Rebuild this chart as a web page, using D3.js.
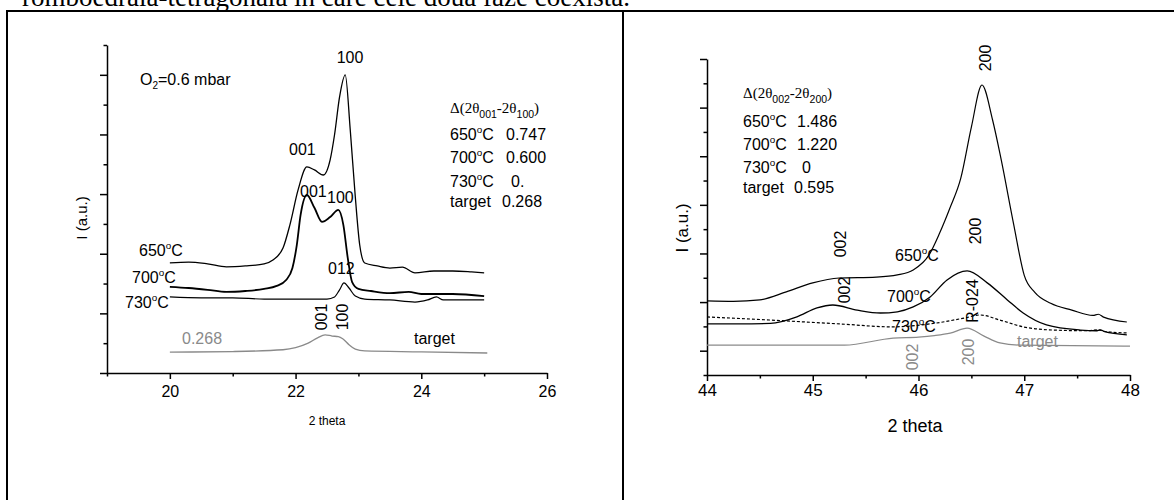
<!DOCTYPE html>
<html>
<head>
<meta charset="utf-8">
<script src="https://cdn.jsdelivr.net/npm/d3@7"></script>
<style>
body { margin: 0; background: #fff; }
svg { display: block; font-family: "Liberation Sans", Arial, sans-serif; }
</style>
</head>
<body>
<div class="dataviz"></div>
<script>
// XRD patterns, 2 theta vs intensity (a.u.)

// left panel: 001 / 100 region
var left650 = [[20,3.69],[20.3,3.72],[20.6,3.66],[20.9,3.56],[21.2,3.59],[21.5,3.66],[21.64,3.79],[21.8,4.19],
  [21.91,4.97],[22.04,6.14],[22.18,6.91],[22.3,6.81],[22.44,6.64],[22.55,7.15],[22.62,7.99],[22.7,9.26],
  [22.79,10.0],[22.87,8.15],[22.95,5.91],[23.02,4.3],[23.1,3.69],[23.3,3.59],[23.5,3.52],[23.7,3.55],
  [23.9,3.36],[24.2,3.42],[24.5,3.42],[24.8,3.39],[25,3.36]];
var left700 = [[20,2.89],[20.3,2.85],[20.6,2.79],[20.9,2.72],[21.2,2.75],[21.5,2.82],[21.7,2.92],[21.85,3.12],
  [21.95,3.52],[22.02,4.3],[22.08,5.3],[22.18,5.97],[22.3,5.54],[22.42,5.07],[22.55,5.23],[22.68,5.47],
  [22.76,4.97],[22.83,3.86],[22.9,3.05],[23,2.82],[23.2,2.75],[23.5,2.68],[23.8,2.72],[24,2.65],[24.5,2.65],[25,2.58]];
var left730 = [[20,2.55],[20.5,2.52],[21,2.52],[21.5,2.48],[22,2.48],[22.5,2.48],[22.62,2.55],[22.7,2.79],
  [22.77,3.02],[22.85,2.85],[22.95,2.58],[23.1,2.48],[23.5,2.45],[23.9,2.38],[24.1,2.45],[24.24,2.55],
  [24.35,2.45],[24.6,2.45],[25,2.45]];
var leftTarget = [[20,0.7],[21,0.72],[21.8,0.78],[22,0.85],[22.2,1.0],[22.35,1.18],[22.47,1.28],[22.58,1.24],
  [22.68,1.22],[22.75,1.15],[22.85,0.95],[22.95,0.8],[23.1,0.74],[24,0.71],[25.05,0.67]];

// right panel: 002 / 200 region
var right650 = [[44,3.05],[44.25,3.03],[44.5,3.09],[44.75,3.42],[45,3.79],[45.25,3.99],[45.6,4.03],[45.8,4.12],
  [45.95,4.32],[46.1,4.94],[46.2,5.84],[46.3,6.9],[46.4,8.1],[46.5,10.2],[46.6,11.93],[46.7,10.5],[46.78,8.9],
  [46.9,6.2],[47,4.1],[47.1,3.4],[47.25,2.95],[47.45,2.67],[47.65,2.45],[47.7,2.5],[47.75,2.38],[47.97,2.18]];
var right700 = [[44,2.1],[44.3,2.1],[44.6,2.12],[44.85,2.39],[45.04,2.76],[45.19,2.88],[45.42,2.67],[45.64,2.55],
  [45.8,2.6],[45.95,2.8],[46.11,3.21],[46.27,3.91],[46.46,4.28],[46.65,3.79],[46.84,3.09],[46.99,2.55],
  [47.21,2.06],[47.53,1.85],[47.68,1.82],[47.72,1.86],[47.76,1.78],[47.97,1.65]];
var right730 = [[44,2.39],[44.6,2.26],[45.26,2.1],[45.75,1.98],[46.17,2.14],[46.44,2.35],[46.58,2.47],
  [46.77,2.26],[46.99,1.98],[47.27,1.85],[47.6,1.82],[47.7,1.86],[47.75,1.8],[47.97,1.73]];
var rightTarget = [[44,1.23],[45.3,1.23],[45.76,1.52],[46,1.56],[46.15,1.62],[46.3,1.72],[46.46,1.93],
  [46.62,1.6],[46.77,1.32],[46.96,1.23],[48,1.19]];

// axis ticks
var leftXMajor = [20, 22, 24, 26], leftXMinor = [19, 21, 23, 25];
var leftYMajor = [0, 2, 4, 6, 8, 10], leftYMinor = [1, 3, 5, 7, 9, 11];
var rightXMajor = [44, 45, 46, 47, 48], rightXMinor = [44.5, 45.5, 46.5, 47.5];
var rightYMajor = [1, 3, 5, 7, 9, 11, 13], rightYMinor = [0, 2, 4, 6, 8, 10, 12];

// peak separation tables
var leftDeltaRows = ["650", "700", "730", "target"], leftDeltaVals = ["0.747", "0.600", "0.", "0.268"];
var rightDeltaRows = ["650", "700", "730", "target"], rightDeltaVals = ["1.486", "1.220", "0", "0.595"];

var gray = "#8a8a8a";

var canvas = d3.select(".dataviz").append("svg")
  .attr("width", 1174)
  .attr("height", 500);

// page text + table frame
canvas.append("text")
  .attr("x", 22).attr("y", 6)
  .attr("font-family", "Liberation Serif, Times New Roman, serif")
  .attr("font-size", 27)
  .text("romboedrală-tetragonală în care cele două faze coexistă.");
canvas.append("line").attr("x1", 6).attr("x2", 1174).attr("y1", 11).attr("y2", 11)
  .attr("stroke", "#000").attr("stroke-width", 2);
canvas.append("line").attr("x1", 7).attr("x2", 7).attr("y1", 10).attr("y2", 500)
  .attr("stroke", "#000").attr("stroke-width", 2);
canvas.append("line").attr("x1", 623).attr("x2", 623).attr("y1", 10).attr("y2", 500)
  .attr("stroke", "#000").attr("stroke-width", 2);

function tempLabel(g, x, y, t, size, color) {
  var txt = g.append("text").attr("x", x).attr("y", y).attr("font-size", size).attr("fill", color || "#000");
  txt.append("tspan").text(t);
  txt.append("tspan").attr("font-size", size * 0.62).attr("dy", -size * 0.42).text("o");
  txt.append("tspan").attr("dy", size * 0.42).text("C");
  return txt;
}

function deltaLabel(g, x, y, a, b, size) {
  var txt = g.append("text").attr("x", x).attr("y", y).attr("font-size", size)
    .attr("font-family", "Liberation Serif, Times New Roman, serif");
  txt.append("tspan").text("\u0394(2\u03b8");
  txt.append("tspan").attr("font-family", "Liberation Sans, Arial").attr("font-size", size * 0.7)
    .attr("dy", size * 0.3).text(a);
  txt.append("tspan").attr("dy", -size * 0.3).text("-2\u03b8");
  txt.append("tspan").attr("font-family", "Liberation Sans, Arial").attr("font-size", size * 0.7)
    .attr("dy", size * 0.3).text(b);
  txt.append("tspan").attr("dy", -size * 0.3).text(")");
}

function rotLabel(g, cx, cy, t, size, color) {
  g.append("text")
    .attr("transform", "translate(" + cx + "," + cy + ") rotate(-90)")
    .attr("text-anchor", "middle")
    .attr("dominant-baseline", "central")
    .attr("font-size", size)
    .attr("fill", color || "#000")
    .text(t);
}

function drawAxes(g, x, y, xMaj, xMin, yMaj, yMin, fs, pad) {
  var h = y.range()[0];
  g.append("g").attr("transform", "translate(0," + h + ")")
    .call(d3.axisBottom(x).tickValues(xMin).tickSize(3.5).tickSizeOuter(0).tickFormat(""))
    .call(function(s) { s.select(".domain").remove(); });
  g.append("g").attr("transform", "translate(0," + h + ")")
    .call(d3.axisBottom(x).tickValues(xMaj).tickSize(6).tickSizeOuter(0).tickPadding(pad).tickFormat(d3.format("d")))
    .call(function(s) { s.selectAll("text").attr("font-size", fs).attr("font-family", "Liberation Sans, Arial").attr("fill", "#000"); });
  var x0 = x.range()[0];
  g.append("g").attr("transform", "translate(" + x0 + ",0)")
    .call(d3.axisLeft(y).tickValues(yMin).tickSize(3.5).tickSizeOuter(0).tickFormat(""))
    .call(function(s) { s.select(".domain").remove(); });
  g.append("g").attr("transform", "translate(" + x0 + ",0)")
    .call(d3.axisLeft(y).tickValues(yMaj).tickSize(7).tickSizeOuter(0).tickFormat(""));
  g.selectAll(".domain, .tick line").attr("stroke", "#000").attr("stroke-width", 1.5);
}

// ---------- left panel ----------
var xL = d3.scaleLinear().domain([19, 26]).range([107, 547]);
var yL = d3.scaleLinear().domain([0, 11]).range([373, 45]);
var gL = canvas.append("g");
drawAxes(gL, xL, yL, leftXMajor, leftXMinor, leftYMajor, leftYMinor, 16, 7);

var lineL = d3.line().x(function(d) { return xL(d[0]); }).y(function(d) { return yL(d[1]); })
  .curve(d3.curveMonotoneX);
[[left650, "#000", 1.3], [left700, "#000", 1.8], [left730, "#000", 1.2], [leftTarget, gray, 1.3]]
  .forEach(function(s) {
    gL.append("path").attr("d", lineL(s[0])).attr("fill", "none")
      .attr("stroke", s[1]).attr("stroke-width", s[2]);
  });

gL.append("text").attr("x", 327).attr("y", 425).attr("text-anchor", "middle").attr("font-size", 12).text("2 theta");
gL.append("text").attr("transform", "translate(87,218) rotate(-90)").attr("text-anchor", "middle")
  .attr("font-size", 15).text("I (a.u.)");

var o2 = gL.append("text").attr("x", 140).attr("y", 85).attr("font-size", 16);
o2.append("tspan").text("O");
o2.append("tspan").attr("font-size", 10).attr("dy", 4).text("2");
o2.append("tspan").attr("dy", -4).text("=0.6 mbar");

gL.append("text").attr("x", 350).attr("y", 63).attr("text-anchor", "middle").attr("font-size", 16).text("100");
gL.append("text").attr("x", 289).attr("y", 155).attr("font-size", 16).text("001");
gL.append("text").attr("x", 300).attr("y", 197).attr("font-size", 16).text("001");
gL.append("text").attr("x", 327).attr("y", 203).attr("font-size", 16).text("100");
gL.append("text").attr("x", 328).attr("y", 274).attr("font-size", 16).text("012");
tempLabel(gL, 139, 256, "650", 16);
tempLabel(gL, 132, 283, "700", 16);
tempLabel(gL, 125, 308, "730", 16);
rotLabel(gL, 321, 317, "001", 16);
rotLabel(gL, 342, 317, "100", 16);
gL.append("text").attr("x", 182).attr("y", 344).attr("font-size", 16).attr("fill", gray).text("0.268");
gL.append("text").attr("x", 414).attr("y", 344).attr("font-size", 16).text("target");

deltaLabel(gL, 450, 113, "001", "100", 15);
var rowYL = [140, 163, 187, 207], valXL = [506, 506, 511, 502];
leftDeltaRows.forEach(function(r, i) {
  if (r == "target") gL.append("text").attr("x", 450).attr("y", rowYL[i]).attr("font-size", 16).text("target");
  else tempLabel(gL, 450, rowYL[i], r, 16);
  gL.append("text").attr("x", valXL[i]).attr("y", rowYL[i]).attr("font-size", 16).text(leftDeltaVals[i]);
});

// ---------- right panel ----------
var xR = d3.scaleLinear().domain([44, 48]).range([707, 1130]);
var yR = d3.scaleLinear().domain([0, 13]).range([375, 59]);
var gR = canvas.append("g");
drawAxes(gR, xR, yR, rightXMajor, rightXMinor, rightYMajor, rightYMinor, 17, 3);

var lineR = d3.line().x(function(d) { return xR(d[0]); }).y(function(d) { return yR(d[1]); })
  .curve(d3.curveMonotoneX);
[[right650, "#000", 1.2, null], [right700, "#000", 1.3, null], [right730, "#000", 1.2, "3,2"], [rightTarget, gray, 1.2, null]]
  .forEach(function(s) {
    gR.append("path").attr("d", lineR(s[0])).attr("fill", "none")
      .attr("stroke", s[1]).attr("stroke-width", s[2]).attr("stroke-dasharray", s[3]);
  });

gR.append("text").attr("x", 915).attr("y", 432).attr("text-anchor", "middle").attr("font-size", 18).text("2 theta");
gR.append("text").attr("transform", "translate(688,228) rotate(-90)").attr("text-anchor", "middle")
  .attr("font-size", 17).text("I (a.u.)");

rotLabel(gR, 985, 58, "200", 16);
rotLabel(gR, 840, 244, "002", 16);
tempLabel(gR, 895, 261, "650", 16);
rotLabel(gR, 975, 231, "200", 16);
rotLabel(gR, 844, 290, "002", 16);
tempLabel(gR, 887, 302, "700", 16);
rotLabel(gR, 972, 301, "R-024", 16);
tempLabel(gR, 892, 332, "730", 16);
rotLabel(gR, 912, 357, "002", 16, gray);
rotLabel(gR, 968, 352, "200", 16, gray);
gR.append("text").attr("x", 1017).attr("y", 347).attr("font-size", 16).attr("fill", gray).text("target");

deltaLabel(gR, 743, 98, "002", "200", 15);
var rowYR = [127, 150, 173, 193], valXR = [797, 797, 802, 794];
rightDeltaRows.forEach(function(r, i) {
  if (r == "target") gR.append("text").attr("x", 743).attr("y", rowYR[i]).attr("font-size", 16).text("target");
  else tempLabel(gR, 743, rowYR[i], r, 16);
  gR.append("text").attr("x", valXR[i]).attr("y", rowYR[i]).attr("font-size", 16).text(rightDeltaVals[i]);
});
</script>
</body>
</html>
